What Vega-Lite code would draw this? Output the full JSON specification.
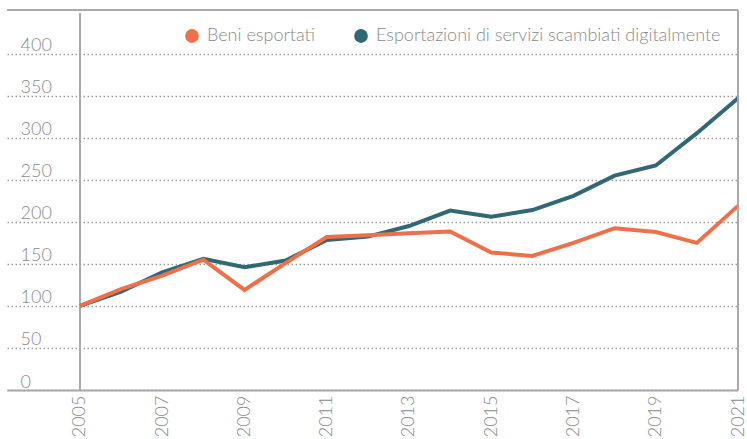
{
  "$schema": "https://vega.github.io/schema/vega-lite/v6.json",
  "width": 731,
  "height": 380,
  "autosize": {"type": "none"},
  "padding": {"left": 7, "top": 10, "right": 9, "bottom": 49},
  "background": "white",
  "config": {
    "view": {"stroke": null},
    "font": "Lato",
    "axis": {"labelFont": "Lato", "labelFontWeight": 300, "labelColor": "#8a8a8a", "labelFontSize": 18}
  },
  "data": {
    "values": [
      {"anno": 2005, "serie": "Beni esportati", "valore": 100},
      {"anno": 2006, "serie": "Beni esportati", "valore": 120},
      {"anno": 2007, "serie": "Beni esportati", "valore": 136},
      {"anno": 2008, "serie": "Beni esportati", "valore": 155},
      {"anno": 2009, "serie": "Beni esportati", "valore": 119},
      {"anno": 2010, "serie": "Beni esportati", "valore": 151},
      {"anno": 2011, "serie": "Beni esportati", "valore": 182},
      {"anno": 2012, "serie": "Beni esportati", "valore": 184},
      {"anno": 2013, "serie": "Beni esportati", "valore": 186.5},
      {"anno": 2014, "serie": "Beni esportati", "valore": 188.5},
      {"anno": 2015, "serie": "Beni esportati", "valore": 163.5},
      {"anno": 2016, "serie": "Beni esportati", "valore": 159.5},
      {"anno": 2017, "serie": "Beni esportati", "valore": 175},
      {"anno": 2018, "serie": "Beni esportati", "valore": 192.5},
      {"anno": 2019, "serie": "Beni esportati", "valore": 188},
      {"anno": 2020, "serie": "Beni esportati", "valore": 175},
      {"anno": 2021, "serie": "Beni esportati", "valore": 219},
      {"anno": 2005, "serie": "Esportazioni di servizi scambiati digitalmente", "valore": 100},
      {"anno": 2006, "serie": "Esportazioni di servizi scambiati digitalmente", "valore": 117},
      {"anno": 2007, "serie": "Esportazioni di servizi scambiati digitalmente", "valore": 140},
      {"anno": 2008, "serie": "Esportazioni di servizi scambiati digitalmente", "valore": 156},
      {"anno": 2009, "serie": "Esportazioni di servizi scambiati digitalmente", "valore": 146},
      {"anno": 2010, "serie": "Esportazioni di servizi scambiati digitalmente", "valore": 154},
      {"anno": 2011, "serie": "Esportazioni di servizi scambiati digitalmente", "valore": 178.5},
      {"anno": 2012, "serie": "Esportazioni di servizi scambiati digitalmente", "valore": 182.5},
      {"anno": 2013, "serie": "Esportazioni di servizi scambiati digitalmente", "valore": 195},
      {"anno": 2014, "serie": "Esportazioni di servizi scambiati digitalmente", "valore": 213.5},
      {"anno": 2015, "serie": "Esportazioni di servizi scambiati digitalmente", "valore": 206},
      {"anno": 2016, "serie": "Esportazioni di servizi scambiati digitalmente", "valore": 214},
      {"anno": 2017, "serie": "Esportazioni di servizi scambiati digitalmente", "valore": 231},
      {"anno": 2018, "serie": "Esportazioni di servizi scambiati digitalmente", "valore": 255},
      {"anno": 2019, "serie": "Esportazioni di servizi scambiati digitalmente", "valore": 267},
      {"anno": 2020, "serie": "Esportazioni di servizi scambiati digitalmente", "valore": 305.5},
      {"anno": 2021, "serie": "Esportazioni di servizi scambiati digitalmente", "valore": 347}
    ]
  },
  "encoding": {
    "x": {
      "field": "anno", "type": "quantitative",
      "scale": {"domain": [2003.225, 2021], "nice": false, "zero": false},
      "axis": {
        "title": null, "values": [2005, 2007, 2009, 2011, 2013, 2015, 2017, 2019, 2021],
        "format": "d", "labelAngle": 270, "labelAlign": "right", "labelBaseline": "middle",
        "ticks": false, "labelPadding": 5, "grid": false,
        "domainColor": "#a9a9b0", "domainWidth": 2
      }
    },
    "y": {
      "field": "valore", "type": "quantitative",
      "scale": {"domain": [0, 452], "nice": false},
      "axis": {
        "title": null, "values": [0, 50, 100, 150, 200, 250, 300, 350, 400],
        "domain": false, "ticks": false, "labelAlign": "left", "labelPadding": -13,
        "labelBaseline": "alphabetic", "labelOffset": -3,
        "grid": true, "gridColor": "#9a9a9a", "gridDash": [1.5, 2.5], "gridWidth": 1.5
      }
    },
    "color": {
      "field": "serie", "type": "nominal",
      "scale": {"domain": ["Beni esportati", "Esportazioni di servizi scambiati digitalmente"], "range": ["#ee704a", "#306874"]},
      "legend": {
        "title": null, "orient": "none", "direction": "horizontal",
        "legendX": 176, "legendY": 17,
        "symbolType": "circle", "symbolSize": 190, "symbolStrokeWidth": 0,
        "labelFontSize": 18, "labelColor": "#8a8a8a", "labelFont": "Lato", "labelFontWeight": 300,
        "labelOffset": 6, "columnPadding": 36, "labelLimit": 400,
        "encode": {"symbols": {"update": {"fill": {"scale": "color", "field": "value"}, "fillOpacity": {"value": 1}, "strokeWidth": {"value": 0}}}}
      }
    }
  },
  "layer": [
    {
      "mark": {"type": "rule", "color": "#a9a9b0", "strokeWidth": 2, "y2Offset": 3},
      "encoding": {"x": {"datum": 2005}, "y": {"datum": 0}, "y2": {"datum": 452}, "color": {"value": "#a9a9b0"}}
    },
    {
      "transform": [{"filter": "datum.serie !== 'Beni esportati'"}],
      "mark": {"type": "line", "strokeWidth": 4, "strokeJoin": "miter"}
    },
    {
      "transform": [{"filter": "datum.serie === 'Beni esportati'"}],
      "mark": {"type": "line", "strokeWidth": 4, "strokeJoin": "miter"}
    },
    {
      "mark": {"type": "rule", "color": "#a9a9b0", "strokeWidth": 2},
      "encoding": {"x": {"datum": 2003.225}, "x2": {"datum": 2021}, "y": {"datum": 452}, "color": {"value": "#a9a9b0"}}
    },
    {
      "mark": {"type": "rule", "color": "#a9a9b0", "strokeWidth": 2},
      "encoding": {"x": {"datum": 2021}, "y": {"datum": 0}, "y2": {"datum": 452}, "color": {"value": "#a9a9b0"}}
    }
  ]
}
